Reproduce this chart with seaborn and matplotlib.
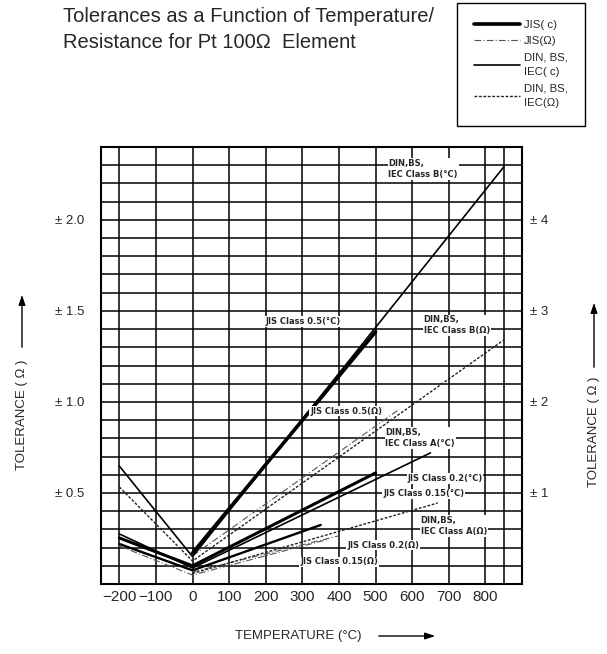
import numpy as np
import pandas as pd
import matplotlib
matplotlib.use("Agg")
import matplotlib.pyplot as plt
import seaborn as sns

# --- values (tolerance in ohm-scale units, left axis) ---
t_din_b = [-200, 0, 850]
din_b_c = [0.648, 0.15, 2.29]
din_b_ohm = [0.533, 0.126, 1.34]

t_din_a_c = [-200, 0, 650]
din_a_c = [0.275, 0.088, 0.72]
t_din_a_ohm = [0, 670]
din_a_ohm = [0.058, 0.445]

t_jis05_c = [0, 500]
jis05_c = [0.17, 1.385]
t_jis05_ohm = [0, 565]
jis05_ohm = [0.155, 0.96]

t_jis02_c = [-200, 0, 500]
jis02_c = [0.253, 0.10, 0.61]
t_jis02_ohm = [0, 400]
jis02_ohm = [0.066, 0.265]

t_jis015_c = [-200, 0, 350]
jis015_c = [0.22, 0.075, 0.324]
t_jis015_ohm = [-200, 0, 370]
jis015_ohm = [0.209, 0.049, 0.245]

x_ticks = list(range(-200, 801, 100))
left_ticks = [0.5, 1.0, 1.5, 2.0]
left_labels = ["± 0.5", "± 1.0", "± 1.5", "± 2.0"]
right_ticks = [1, 2, 3, 4]
right_labels = ["± 1", "± 2", "± 3", "± 4"]

# curve labels inside the plot: (text, temp, tolerance)
notes = [
    ("DIN,BS,\nIEC Class B(°C)", 535, 2.28),
    ("JIS Class 0.5(°C)", 198, 1.44),
    ("DIN,BS,\nIEC Class B(Ω)", 631, 1.42),
    ("JIS Class 0.5(Ω)", 321, 0.95),
    ("DIN,BS,\nIEC Class A(°C)", 527, 0.80),
    ("JIS Class 0.2(°C)", 587, 0.58),
    ("JIS Class 0.15(°C)", 521, 0.495),
    ("DIN,BS,\nIEC Class A(Ω)", 623, 0.32),
    ("JIS Class 0.2(Ω)", 422, 0.214),
    ("JIS Class 0.15(Ω)", 294, 0.121),
]

sns.set_style("white")
plt.rcParams["font.family"] = ["Liberation Sans", "DejaVu Sans"]

styles = {
    "JIS( c)": dict(color="black", lw=2.4, ls="-"),
    "JIS(Ω)": dict(color="#555555", lw=0.8, ls=(0, (6, 2, 1, 2))),
    "DIN, BS,\nIEC( c)": dict(color="black", lw=1.2, ls="-"),
    "DIN, BS,\nIEC(Ω)": dict(color="#222222", lw=1.0, ls=(0, (2, 1.2))),
}

curves = [
    ("JIS( c)", t_jis05_c, jis05_c, 2.6),
    ("JIS( c)", t_jis02_c, jis02_c, 2.2),
    ("JIS( c)", t_jis015_c, jis015_c, 1.7),
    ("JIS(Ω)", t_jis05_ohm, jis05_ohm, None),
    ("JIS(Ω)", t_jis02_ohm, jis02_ohm, None),
    ("JIS(Ω)", t_jis015_ohm, jis015_ohm, None),
    ("DIN, BS,\nIEC( c)", t_din_b, din_b_c, None),
    ("DIN, BS,\nIEC( c)", t_din_a_c, din_a_c, None),
    ("DIN, BS,\nIEC(Ω)", t_din_b, din_b_ohm, None),
    ("DIN, BS,\nIEC(Ω)", t_din_a_ohm, din_a_ohm, None),
]

fig = plt.figure(figsize=(6.07, 6.54), dpi=100)
ax = fig.add_axes([101 / 607, 1 - 584 / 654, 421 / 607, 437 / 654])

seen = set()
for fam, t, v, lw in curves:
    st = dict(styles[fam])
    if lw is not None:
        st["lw"] = lw
    lab = fam if fam not in seen else None
    seen.add(fam)
    sns.lineplot(x=t, y=v, ax=ax, color=st["color"], linewidth=st["lw"],
                 linestyle=st["ls"], label=lab, zorder=3, sort=False)

handles, labels = ax.get_legend_handles_labels()
if ax.get_legend():
    ax.get_legend().remove()

ax.set_xlim(-250, 900)
ax.set_ylim(0, 2.4)
ax.set_xticks(x_ticks)
ax.set_xticklabels([str(x).replace("-", "−") for x in x_ticks], fontsize=11)
ax.set_xticks([850], minor=True)
ax.set_yticks(left_ticks)
ax.set_yticklabels(left_labels, fontsize=9.5)
ax.set_yticks(np.round(np.arange(0.1, 2.35, 0.1), 2), minor=True)
ax.grid(True, which="both", color="black", lw=1.1, zorder=1)
ax.tick_params(which="both", length=0)
ax.tick_params(axis="y", pad=12)
ax.tick_params(axis="x", pad=4)
for s in ax.spines.values():
    s.set_color("black")
    s.set_linewidth(1.5)
ax.set_xlabel("")
ax.set_ylabel("")

ax2 = ax.twinx()
ax2.set_ylim(0, 4.8)
ax2.set_yticks(right_ticks)
ax2.set_yticklabels(right_labels, fontsize=9.5)
ax2.tick_params(length=0, pad=6)
ax2.grid(False)
for s in ax2.spines.values():
    s.set_visible(False)

for txt, tx, ty in notes:
    ax.text(tx, ty, txt, fontsize=6, fontweight="bold", family="DejaVu Sans",
            ha="left", va="center", linespacing=1.3, zorder=5,
            bbox=dict(facecolor="white", edgecolor="none", pad=0.6))

# title
fig.text(63 / 607, 1 - 17 / 654, "Tolerances as a Function of Temperature/",
         fontsize=14.5, ha="left", va="center")
fig.text(63 / 607, 1 - 42 / 654, "Resistance for Pt 100Ω  Element",
         fontsize=14.5, ha="left", va="center")

# legend box
leg = fig.legend(handles, labels, loc="upper left",
                 bbox_to_anchor=(457 / 607, 1 - 3 / 654), borderaxespad=0,
                 fontsize=8.2, frameon=True, fancybox=False, edgecolor="black",
                 framealpha=1, handlelength=4.0, borderpad=1.5,
                 labelspacing=0.55, handletextpad=0.4)
leg.get_frame().set_linewidth(1.0)
for t in leg.get_texts():
    t.set_linespacing(1.6)

# axis titles with arrows
def frac(px, py):
    return (px / 607, 1 - py / 654)

fig.text(*frac(22, 415), "TOLERANCE ( Ω )", rotation=90, fontsize=9.5,
         ha="center", va="center")
fig.text(*frac(594, 432), "TOLERANCE ( Ω )", rotation=90, fontsize=9.5,
         ha="center", va="center")
fig.text(*frac(298, 636), "TEMPERATURE (°C)", fontsize=9.5,
         ha="center", va="center")

arrow = dict(arrowstyle="-|>,head_length=0.6,head_width=0.2", color="black", lw=1.0)
ax.annotate("", xy=frac(22, 292), xytext=frac(22, 350), xycoords="figure fraction",
            textcoords="figure fraction", arrowprops=arrow)
ax.annotate("", xy=frac(594, 300), xytext=frac(594, 370), xycoords="figure fraction",
            textcoords="figure fraction", arrowprops=arrow)
ax.annotate("", xy=frac(438, 636), xytext=frac(376, 636), xycoords="figure fraction",
            textcoords="figure fraction", arrowprops=arrow)

fig.savefig("out.png", dpi=100)
